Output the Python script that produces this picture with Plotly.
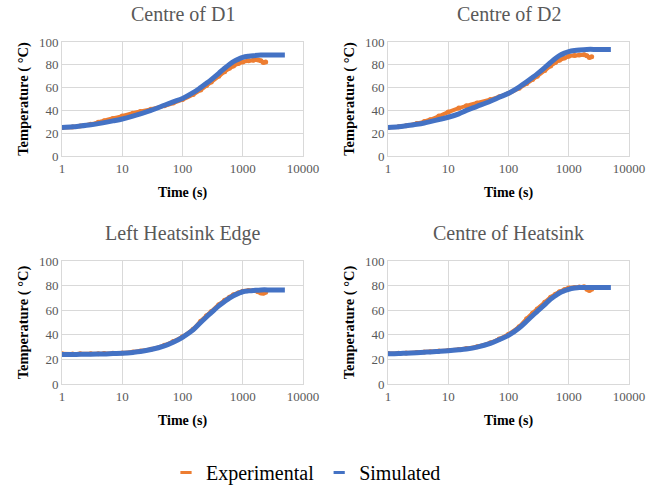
import plotly.graph_objects as go

# ---- data ----
t_exp = [1, 1.5, 2, 3, 4, 5, 7, 10, 15, 20, 30, 50, 70, 100, 150, 200, 250, 300, 400, 500, 600, 700, 850, 1000, 1250, 1500, 1800, 2000, 2200, 2400]
t_sim = [1, 1.5, 2, 3, 4, 5, 7, 10, 15, 20, 30, 50, 70, 100, 150, 200, 250, 300, 400, 500, 600, 700, 850, 1000, 1250, 1500, 2000, 3000, 5000]

d1_exp = [25, 25.5, 26.3, 27.8, 29.5, 31, 33, 35, 37.5, 39, 41, 44, 46.5, 49.5, 54, 58, 61.8, 65, 70, 74, 77, 79, 81.2, 82.5, 83.5, 84, 84.3, 83.5, 82, 82.5]
d1_sim = [25, 25.6, 26.3, 27.4, 28.4, 29.3, 30.8, 32.5, 35, 37, 40, 44.5, 47.5, 50.5, 55.5, 60, 63.8, 67, 72.5, 77, 80.3, 82.8, 85, 86.5, 87.5, 88, 88.5, 88.5, 88.5]

d2_exp = [25, 25.6, 26.5, 28.5, 30.2, 31.8, 35, 38.5, 42, 44, 46.5, 49.5, 52, 55, 59.5, 63.5, 67, 70, 75, 79, 82, 84, 86, 87.5, 88.2, 88.5, 88.8, 88, 86.5, 87]
d2_sim = [25, 25.7, 26.5, 27.8, 29, 30.2, 32, 34, 37, 40, 43.5, 48, 51.5, 55, 60.5, 65, 68.8, 72, 77.5, 82, 85.5, 88, 90.2, 91.5, 92.5, 93, 93.5, 93.5, 93.5]

lh_exp = [24.5, 24.4, 24.5, 24.5, 24.6, 24.7, 25, 25.3, 26, 26.8, 28.3, 31.5, 34.5, 38.5, 44.5, 51, 55.5, 59, 64.5, 68, 70.5, 72.5, 74.2, 75.5, 76, 76, 75, 74, 73.8, 74.5]
lh_sim = [24, 24, 24.1, 24.2, 24.3, 24.4, 24.7, 25, 25.7, 26.4, 28, 31, 34, 38, 44, 50, 54.5, 58, 63.5, 67, 69.8, 71.8, 73.7, 75, 75.7, 76, 76.5, 76.5, 76.5]

ch_exp = [24.7, 25, 25.3, 25.7, 26, 26.3, 26.8, 27.3, 28, 28.8, 30.3, 33.5, 36.5, 40.5, 46.5, 53, 57.5, 61, 66.5, 70.5, 73, 75, 76.8, 78, 78.5, 78.8, 79, 77, 76, 77]
ch_sim = [24.5, 24.8, 25.1, 25.5, 25.8, 26.1, 26.5, 27, 27.8, 28.5, 30, 33, 36, 39.5, 45.5, 51, 55.5, 59, 64.5, 69, 71.8, 74, 75.8, 77, 78, 78.5, 78.5, 78.5, 78.5]

titles = ["Centre of D1", "Centre of D2", "Left Heatsink Edge", "Centre of Heatsink"]
exp_series = [d1_exp, d2_exp, lh_exp, ch_exp]
sim_series = [d1_sim, d2_sim, lh_sim, ch_sim]

x_tickvals = [1, 10, 100, 1000, 10000]
x_ticktext = ["1", "10", "100", "1000", "10000"]
y_tickvals = [0, 20, 40, 60, 80, 100]

ORANGE = "#ED7D31"
BLUE = "#4472C4"
GRID = "#d9d9d9"
TICKC = "#595959"
SERIF = "Liberation Serif"

W, H = 657, 492
# plot boxes in pixels: (left, right, top, bottom)
boxes = [(62, 303, 42, 156), (388, 629, 42, 156), (62, 303, 261, 384), (388, 629, 261, 384)]

fig = go.Figure()
layout = {}
annotations = []
for i, (title, ye, ys, box) in enumerate(zip(titles, exp_series, sim_series, boxes)):
    n = "" if i == 0 else str(i + 1)
    xa, ya = "x" + n, "y" + n
    fig.add_trace(go.Scatter(x=t_exp, y=ye, mode="lines+markers", line=dict(color=ORANGE, width=4, shape="spline"),
                             marker=dict(color=ORANGE, size=5), xaxis=xa, yaxis=ya, showlegend=False,
                             name="Experimental"))
    fig.add_trace(go.Scatter(x=t_sim, y=ys, mode="lines", line=dict(color=BLUE, width=5, shape="spline"),
                             xaxis=xa, yaxis=ya, showlegend=False, name="Simulated"))
    l, r, t, b = box
    layout["xaxis" + n] = dict(
        type="log", range=[0, 4], domain=[l / W, r / W], anchor=ya, automargin=False,
        tickvals=x_tickvals, ticktext=x_ticktext, tickfont=dict(family=SERIF, size=13, color=TICKC),
        showgrid=True, gridcolor=GRID, gridwidth=1, showline=True, linecolor=GRID, mirror=True,
        zeroline=False, ticks="", ticklen=0,
        title=dict(text="<b>Time (s)</b>", font=dict(family=SERIF, size=14, color="black"), standoff=12),
    )
    layout["yaxis" + n] = dict(
        range=[0, 100], domain=[1 - b / H, 1 - t / H], anchor=xa, automargin=False,
        tickvals=y_tickvals, tickfont=dict(family=SERIF, size=13, color=TICKC),
        showgrid=True, gridcolor=GRID, gridwidth=1, showline=True, linecolor=GRID, mirror=True,
        zeroline=False, ticks="",
        title=dict(text="<b>Temperature ( °C)</b>", font=dict(family=SERIF, size=14.5, color="black"), standoff=6),
    )
    annotations.append(dict(text=title, x=(l + r) / 2 / W, y=1 - (t - 28) / H, xref="paper", yref="paper",
                            xanchor="center", yanchor="middle", showarrow=False,
                            font=dict(family=SERIF, size=20, color=TICKC)))

# legend entries
fig.add_trace(go.Scatter(x=[None], y=[None], mode="markers", name="Experimental",
                         marker=dict(symbol="line-ew", size=8, line=dict(color=ORANGE, width=3))))
fig.add_trace(go.Scatter(x=[None], y=[None], mode="markers", name="Simulated",
                         marker=dict(symbol="line-ew", size=8, line=dict(color=BLUE, width=3))))

fig.update_layout(
    width=W, height=H, margin=dict(l=0, r=0, t=0, b=0),
    paper_bgcolor="white", plot_bgcolor="white",
    font=dict(family=SERIF),
    annotations=annotations,
    legend=dict(orientation="h", x=306 / W, xanchor="center", y=0, yanchor="bottom",
                font=dict(family=SERIF, size=20, color="black"), itemwidth=30,
                bgcolor="rgba(0,0,0,0)"),
    **layout,
)

fig.write_html("out.html", config={"displayModeBar": False},
               post_script="document.body.style.margin='0px';")
